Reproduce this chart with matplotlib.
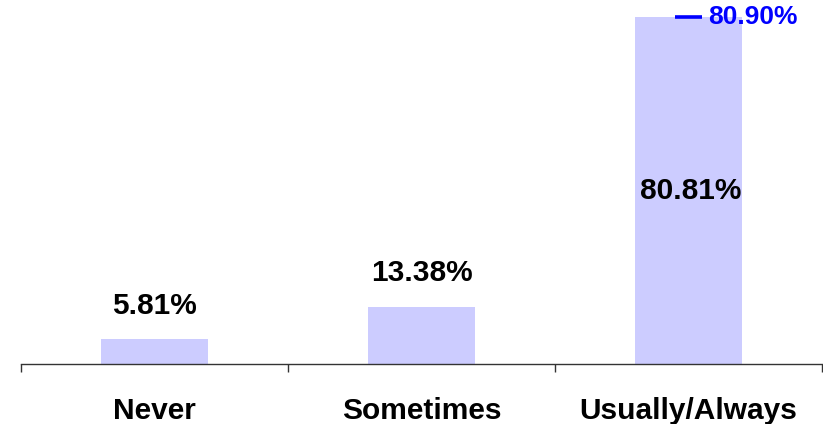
import matplotlib
matplotlib.use("Agg")
import matplotlib.pyplot as plt
from matplotlib.ticker import FixedLocator

categories = ["Never", "Sometimes", "Usually/Always"]
values = [5.81, 13.38, 80.81]
target_value = 80.90
target_label = "80.90%"

plt.rcParams['font.family'] = ['Liberation Sans', 'DejaVu Sans']

fig = plt.figure(figsize=(8.23, 4.24), dpi=100)
ax = fig.add_axes([21 / 823, 60 / 424, 801 / 823, 364 / 424])

x = list(range(len(categories)))
bars = ax.bar(x, values, width=0.4, color="#CCCCFF", edgecolor="none", zorder=2)

ymax = 84.77
ax.set_xlim(-0.5, len(categories) - 0.5)
ax.set_ylim(0, ymax)

# value labels: above short bars, centered inside the tall one
for xi, v in zip(x, values):
    if v > 60:
        ax.text(xi + 0.01, v / 2, f"{v:.2f}%", ha="center", va="center",
                fontsize=21.5, fontweight="bold", color="black", zorder=3)
    else:
        ax.annotate(f"{v:.2f}%", (xi, v), xytext=(0, 14), textcoords="offset points",
                    ha="center", va="bottom", fontsize=21.5, fontweight="bold",
                    color="black", zorder=3)

# target marker on the last bar
ti = len(categories) - 1
ax.plot([ti - 0.049, ti + 0.049], [target_value, target_value], color="#0000FF",
        lw=2.6, solid_capstyle="butt", zorder=4, clip_on=False)
ax.annotate(target_label, (ti + 0.049, target_value), xytext=(5, 0),
            textcoords="offset points", ha="left", va="center",
            fontsize=19, fontweight="bold", color="#0000FF", zorder=4,
            annotation_clip=False)

for side in ["top", "right", "left"]:
    ax.spines[side].set_visible(False)
ax.spines["bottom"].set_color("#333333")
ax.spines["bottom"].set_linewidth(1.0)
ax.set_yticks([])

ax.set_xticks(x)
ax.set_xticklabels(categories, fontsize=21.5, fontweight="bold")
ax.tick_params(axis="x", which="major", length=0, pad=24)
ax.xaxis.set_minor_locator(FixedLocator([-0.5, 0.5, 1.5, 2.5]))
ax.tick_params(axis="x", which="minor", length=6, width=1.0, color="#333333", direction="out")

fig.savefig("out.png", dpi=100)
